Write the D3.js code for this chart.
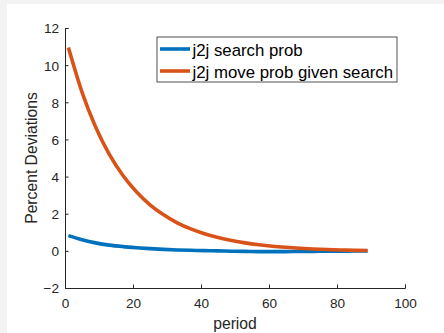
<!DOCTYPE html>
<html><head><meta charset="utf-8">
<script src="https://cdn.jsdelivr.net/npm/d3@7"></script>
<style>html,body{margin:0;padding:0;background:#f3f3f3;}svg{display:block;}</style>
</head><body>
<script>
// Data
const periods = [1,5,9,13,17,21,25,29,33,37,41,45,49,53,57,61,65,69,73,77,81,85,89];
const searchProb = [0.82,0.60,0.43,0.31,0.23,0.17,0.12,0.08,0.05,0.03,0.01,0.00,-0.02,-0.03,-0.04,-0.04,-0.04,-0.03,-0.03,-0.02,-0.02,-0.01,-0.01];
const moveProb = [10.95,8.55,6.67,5.21,4.07,3.18,2.48,1.94,1.51,1.18,0.92,0.72,0.56,0.43,0.33,0.25,0.19,0.14,0.10,0.07,0.05,0.03,0.02];
const seriesNames = ["j2j search prob","j2j move prob given search"];
const xTicks = [0,20,40,60,80,100];
const yTicks = [-2,0,2,4,6,8,10,12];

const W = 444, H = 333;
const svg = d3.select("body").append("svg").attr("width", W).attr("height", H);
svg.append("rect").attr("x",7).attr("y",4).attr("width",W-7).attr("height",H-4).attr("fill","#fff");

const x = d3.scaleLinear().domain([0,100]).range([65,405]);
const y = d3.scaleLinear().domain([-2,12]).range([288,28]);
const axisColor = "#262626";
const font = "'Liberation Sans', Arial, Helvetica, sans-serif";

const gx = svg.append("g").attr("transform","translate(0,288)")
  .call(d3.axisBottom(x).tickValues(xTicks).tickSize(-3.5).tickPadding(9).tickFormat(d3.format("d")));
const gy = svg.append("g").attr("transform","translate(65,0)")
  .call(d3.axisLeft(y).tickValues(yTicks).tickSize(-3.5).tickPadding(6).tickFormat(d3.format("d")));
[gx,gy].forEach(g=>{
  g.select(".domain").attr("stroke",axisColor).attr("stroke-width",1);
  g.selectAll(".tick line").attr("stroke",axisColor).attr("stroke-width",1);
  g.selectAll(".tick text").attr("fill",axisColor).style("font-family",font).style("font-size","13.6px");
});
gx.selectAll(".tick text").attr("dy","0.71em").attr("y",10);
gy.selectAll(".tick text").attr("dy","0.36em");

svg.append("text").attr("x",235).attr("y",329).attr("text-anchor","middle")
  .attr("fill",axisColor).style("font-family",font).style("font-size","15.7px").text("period");
svg.append("text").attr("transform","translate(36.5,158) rotate(-90)").attr("text-anchor","middle")
  .attr("fill",axisColor).style("font-family",font).style("font-size","15.7px").text("Percent Deviations");

const line = d3.line().x((d,i)=>x(periods[i])).y(d=>y(d)).curve(d3.curveMonotoneX);
const colors = ["#0072BD","#D95319"];
[searchProb, moveProb].forEach((s,k)=>{
  svg.append("path").datum(s).attr("d",line).attr("fill","none")
    .attr("stroke",colors[k]).attr("stroke-width",3.6).attr("stroke-linejoin","round");
});

// Legend
const lg = svg.append("g");
lg.append("rect").attr("x",157).attr("y",37).attr("width",240).attr("height",45)
  .attr("fill","#fff").attr("stroke",axisColor).attr("stroke-width",0.8);
seriesNames.forEach((n,k)=>{
  const yy = 49 + k*22;
  lg.append("line").attr("x1",160).attr("x2",190).attr("y1",yy).attr("y2",yy)
    .attr("stroke",colors[k]).attr("stroke-width",3.6);
  lg.append("text").attr("x",192.5).attr("y",yy+6.5).attr("fill","#000")
    .style("font-family",font).style("font-size","16.8px").text(n);
});
</script>
</body></html>
